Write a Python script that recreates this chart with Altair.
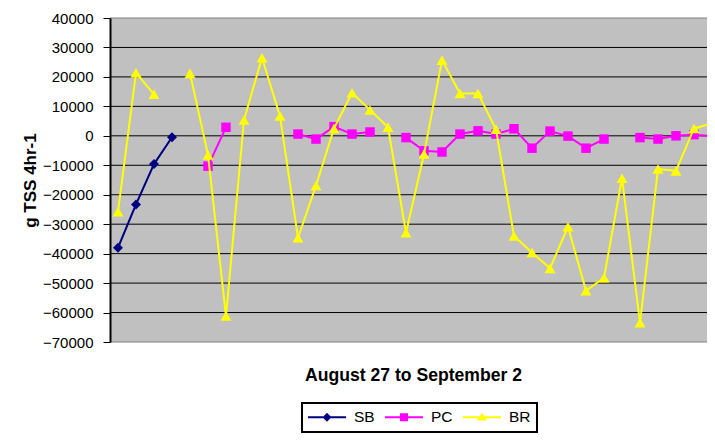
import altair as alt
import pandas as pd

N = None

SERIES = ["SB", "PC", "BR"]
COLORS = ["#000080", "#FF00FF", "#FFFF00"]
SHAPES = ["diamond", "square", "triangle-up"]
SIZES = [100, 90, 121]

# 4-hour intervals, August 27 to September 2 (visible part)
idx = list(range(34))

sb = [-38000, -23300, -9600, -500] + [N] * 30

pc = ([N] * 5 + [-10300, 2900] + [N] * 3 + [600, -1100, 3100, 600, 1300] + [N]
      + [-600, -5100, -5500, 600, 1700, 600, 2400, -4200, 1600, -100, -4200, -1100]
      + [N] + [-600, -1100, 0, 400, -100])

br = [-25800, 21400, 14100, N, 21200, -6500, -61200, 5400, 26500, 6700,
      -34600, -16900, 2500, 14600, 8800, 2900, -32900, -6200, 25700, 14400,
      14400, 2200, -34000, -39600, -45000, -30900, -52600, -48200, -14400, -63500,
      -11300, -11900, 2500, 4200]

y_ticks = list(range(-70000, 40001, 10000))
inner_grid = list(range(-60000, 30001, 10000))
edge_grid = [-70000, 40000]

# legend symbols: line segment with the marker on it
LEG_PATHS = [
    "M-2.375,-0.14L2.375,-0.14L2.375,0.14L-2.375,0.14Z M0,-0.56L0.56,0L0,0.56L-0.56,0Z",
    "M-2.375,-0.14L2.375,-0.14L2.375,0.14L-2.375,0.14Z M-0.5,-0.5L0.5,-0.5L0.5,0.5L-0.5,0.5Z",
    "M-2.375,-0.14L2.375,-0.14L2.375,0.14L-2.375,0.14Z M0,-0.55L0.65,0.4L-0.65,0.4Z",
]

rows = []
for name, vals in zip(SERIES, [sb, pc, br]):
    seg = 0
    prev_none = False
    for i, v in zip(idx, vals):
        if v is None:
            prev_none = True
            continue
        if prev_none:
            seg += 1
            prev_none = False
        rows.append({"series": name, "idx": i, "value": v, "seg": f"{name}{seg}"})
df = pd.DataFrame(rows)

FONT = "Liberation Sans"

xaxis = alt.Axis(title="August 27 to September 2", labels=False, ticks=False,
                 domain=False, grid=False, titleFont=FONT, titleFontSize=17.6,
                 titleFontWeight="bold", titleColor="black", titleY=38,
                 titleX=303, titleAnchor="middle",
                 titleBaseline="alphabetic")
yaxis = alt.Axis(values=y_ticks, format="d", title="g TSS 4hr-1",
                 labelFont=FONT, labelFontSize=15, labelColor="black",
                 labelPadding=10, tickSize=7, tickColor="black", tickWidth=1,
                 domainColor="black", domainWidth=2, grid=False, zindex=1,
                 titleFont=FONT, titleFontSize=17, titleFontWeight="bold",
                 titleColor="black", titleX=-80, titleBaseline="middle", titleAngle=270)

x = alt.X("idx:Q", scale=alt.Scale(domain=[-0.444, 32.722], nice=False, zero=False), axis=xaxis)
y = alt.Y("value:Q", scale=alt.Scale(domain=[-70000, 40000], nice=False, zero=False), axis=yaxis)

grid_inner = alt.Chart(pd.DataFrame({"value": inner_grid})).mark_rule(
    color="black", strokeWidth=1).encode(y=y)
grid_edge = alt.Chart(pd.DataFrame({"value": edge_grid})).mark_rule(
    color="#808080", strokeWidth=1).encode(y=y)

base = alt.Chart(df)
layers = [grid_inner, grid_edge]
for name, color, shape, size in zip(SERIES, COLORS, SHAPES, SIZES):
    d = base.transform_filter(alt.datum.series == name)
    layers.append(d.mark_line(color=color, strokeWidth=2).encode(x=x, y=y, detail="seg:N"))
    layers.append(d.mark_point(shape=shape, filled=True, color=color, size=size, opacity=1)
                  .encode(x=x, y=y))

leg = alt.Legend(orient="none", legendX=192, legendY=385, direction="horizontal",
                 title=None, strokeColor="black", fillColor="white", padding=6,
                 labelFont=FONT, labelFontSize=15.5, labelColor="black",
                 symbolStrokeWidth=0, symbolOffset=11, labelOffset=19,
                 columnPadding=10, symbolOpacity=1, symbolSize=256)

legend_layer = alt.Chart(pd.DataFrame({"series": SERIES})).mark_point(
    filled=True, opacity=0, size=256).encode(
    color=alt.Color("series:N", scale=alt.Scale(domain=SERIES, range=COLORS), legend=leg),
    shape=alt.Shape("series:N", scale=alt.Scale(domain=SERIES, range=LEG_PATHS), legend=leg),
)

chart = alt.layer(*layers, legend_layer).properties(
    width=597, height=324,
    padding={"left": 102, "top": 10, "right": 0, "bottom": 92},
    autosize=alt.AutoSizeParams(type="none"),
    view=alt.ViewBackground(fill="#C0C0C0", strokeWidth=0),
).configure_view(fill="#C0C0C0", strokeWidth=0).configure_legend(strokeWidth=2)

chart.save("out.html", embed_options={"renderer": "svg", "actions": False})
